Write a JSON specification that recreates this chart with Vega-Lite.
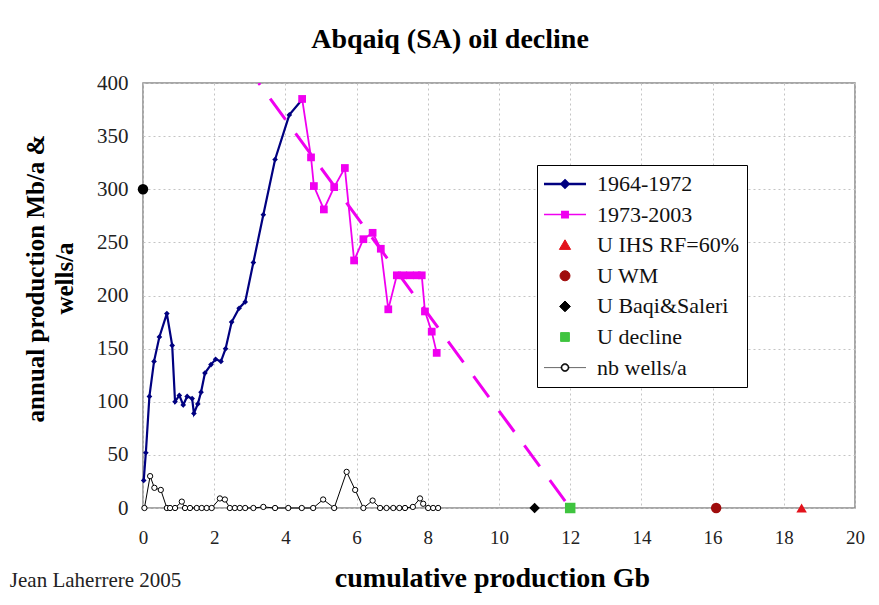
{
  "$schema": "https://vega.github.io/schema/vega-lite/v6.json",
  "width": 712,
  "height": 425,
  "autosize": {"type": "none"},
  "padding": {"left": 143, "top": 83, "right": 24, "bottom": 97},
  "background": "white",
  "title": {
    "text": "Abqaiq (SA) oil decline",
    "font": "Liberation Serif",
    "fontSize": 28,
    "fontWeight": "bold",
    "color": "#000000",
    "frame": "group",
    "anchor": "middle",
    "baseline": "alphabetic",
    "dx": -49,
    "dy": 41,
    "offset": 37
  },
  "datasets": {
    "series": [
      {"series": "1964-1972", "x": 0.02, "y": 26},
      {"series": "1964-1972", "x": 0.08, "y": 52},
      {"series": "1964-1972", "x": 0.18, "y": 105},
      {"series": "1964-1972", "x": 0.31, "y": 138},
      {"series": "1964-1972", "x": 0.46, "y": 161},
      {"series": "1964-1972", "x": 0.67, "y": 183},
      {"series": "1964-1972", "x": 0.82, "y": 153},
      {"series": "1964-1972", "x": 0.9, "y": 100},
      {"series": "1964-1972", "x": 1.02, "y": 106},
      {"series": "1964-1972", "x": 1.13, "y": 97},
      {"series": "1964-1972", "x": 1.24, "y": 105},
      {"series": "1964-1972", "x": 1.38, "y": 103},
      {"series": "1964-1972", "x": 1.43, "y": 89},
      {"series": "1964-1972", "x": 1.54, "y": 98},
      {"series": "1964-1972", "x": 1.63, "y": 109},
      {"series": "1964-1972", "x": 1.74, "y": 127},
      {"series": "1964-1972", "x": 1.91, "y": 135},
      {"series": "1964-1972", "x": 2.04, "y": 140},
      {"series": "1964-1972", "x": 2.19, "y": 138},
      {"series": "1964-1972", "x": 2.32, "y": 150},
      {"series": "1964-1972", "x": 2.49, "y": 175},
      {"series": "1964-1972", "x": 2.7, "y": 188},
      {"series": "1964-1972", "x": 2.87, "y": 194},
      {"series": "1964-1972", "x": 3.1, "y": 231},
      {"series": "1964-1972", "x": 3.38, "y": 276},
      {"series": "1964-1972", "x": 3.71, "y": 328},
      {"series": "1964-1972", "x": 4.11, "y": 370},
      {"series": "1964-1972", "x": 4.46, "y": 384},
      {"series": "1973-2003", "x": 4.47, "y": 385},
      {"series": "1973-2003", "x": 4.72, "y": 330},
      {"series": "1973-2003", "x": 4.8, "y": 303},
      {"series": "1973-2003", "x": 5.08, "y": 281},
      {"series": "1973-2003", "x": 5.37, "y": 302},
      {"series": "1973-2003", "x": 5.67, "y": 320},
      {"series": "1973-2003", "x": 5.93, "y": 233},
      {"series": "1973-2003", "x": 6.19, "y": 253},
      {"series": "1973-2003", "x": 6.45, "y": 259},
      {"series": "1973-2003", "x": 6.68, "y": 244},
      {"series": "1973-2003", "x": 6.89, "y": 187},
      {"series": "1973-2003", "x": 7.13, "y": 219},
      {"series": "1973-2003", "x": 7.31, "y": 219},
      {"series": "1973-2003", "x": 7.5, "y": 219},
      {"series": "1973-2003", "x": 7.69, "y": 219},
      {"series": "1973-2003", "x": 7.83, "y": 219},
      {"series": "1973-2003", "x": 7.92, "y": 185},
      {"series": "1973-2003", "x": 8.11, "y": 166},
      {"series": "1973-2003", "x": 8.25, "y": 146},
      {"series": "nb wells/a", "x": 0.04, "y": 0},
      {"series": "nb wells/a", "x": 0.2, "y": 30},
      {"series": "nb wells/a", "x": 0.32, "y": 19},
      {"series": "nb wells/a", "x": 0.5, "y": 17},
      {"series": "nb wells/a", "x": 0.67, "y": 0},
      {"series": "nb wells/a", "x": 0.76, "y": 0},
      {"series": "nb wells/a", "x": 0.9, "y": 0},
      {"series": "nb wells/a", "x": 1.09, "y": 6},
      {"series": "nb wells/a", "x": 1.18, "y": 0},
      {"series": "nb wells/a", "x": 1.32, "y": 0},
      {"series": "nb wells/a", "x": 1.51, "y": 0},
      {"series": "nb wells/a", "x": 1.65, "y": 0},
      {"series": "nb wells/a", "x": 1.79, "y": 0},
      {"series": "nb wells/a", "x": 1.93, "y": 0},
      {"series": "nb wells/a", "x": 2.16, "y": 9},
      {"series": "nb wells/a", "x": 2.3, "y": 8},
      {"series": "nb wells/a", "x": 2.44, "y": 0},
      {"series": "nb wells/a", "x": 2.58, "y": 0},
      {"series": "nb wells/a", "x": 2.72, "y": 0},
      {"series": "nb wells/a", "x": 2.87, "y": 0},
      {"series": "nb wells/a", "x": 3.1, "y": 0},
      {"series": "nb wells/a", "x": 3.38, "y": 1},
      {"series": "nb wells/a", "x": 3.71, "y": 0},
      {"series": "nb wells/a", "x": 4.08, "y": 0},
      {"series": "nb wells/a", "x": 4.46, "y": 0},
      {"series": "nb wells/a", "x": 4.78, "y": 0},
      {"series": "nb wells/a", "x": 5.06, "y": 8},
      {"series": "nb wells/a", "x": 5.37, "y": 0},
      {"series": "nb wells/a", "x": 5.72, "y": 34},
      {"series": "nb wells/a", "x": 5.96, "y": 17},
      {"series": "nb wells/a", "x": 6.19, "y": 0},
      {"series": "nb wells/a", "x": 6.45, "y": 7},
      {"series": "nb wells/a", "x": 6.66, "y": 0},
      {"series": "nb wells/a", "x": 6.84, "y": 0},
      {"series": "nb wells/a", "x": 7.03, "y": 0},
      {"series": "nb wells/a", "x": 7.2, "y": 0},
      {"series": "nb wells/a", "x": 7.36, "y": 0},
      {"series": "nb wells/a", "x": 7.58, "y": 1},
      {"series": "nb wells/a", "x": 7.78, "y": 9},
      {"series": "nb wells/a", "x": 7.87, "y": 4},
      {"series": "nb wells/a", "x": 8.01, "y": 0},
      {"series": "nb wells/a", "x": 8.15, "y": 0},
      {"series": "nb wells/a", "x": 8.29, "y": 0}
    ],
    "trend": [
      {"x": 3.25, "y": 400},
      {"x": 12.0, "y": 0}
    ],
    "upts": [
      {"series": "U IHS RF=60%", "x": 18.5, "y": 0},
      {"series": "U WM", "x": 16.1, "y": 0},
      {"series": "U Baqi&Saleri", "x": 11.0, "y": 0},
      {"series": "U decline", "x": 12.0, "y": 0}
    ],
    "dot": [
      {"x": 0, "y": 300}
    ],
    "note": [
      {"label": "Jean Laherrere 2005", "x": -3.74, "y": -74}
    ]
  },
  "encoding": {
    "x": {
      "field": "x",
      "type": "quantitative",
      "scale": {"domain": [0, 20], "nice": false, "zero": false},
      "axis": {
        "values": [0, 2, 4, 6, 8, 10, 12, 14, 16, 18, 20],
        "title": "cumulative production Gb",
        "titleFontSize": 28,
        "titleBaseline": "top",
        "titleAlign": "center",
        "titleAnchor": "middle",
        "titleX": 349,
        "titleY": 56,
        "labelFontSize": 19,
        "labelPadding": 20,
        "labelFlush": false,
        "labelOverlap": false
      }
    },
    "y": {
      "field": "y",
      "type": "quantitative",
      "scale": {"domain": [0, 400], "nice": false, "zero": false},
      "axis": {
        "values": [0, 50, 100, 150, 200, 250, 300, 350, 400],
        "title": ["annual production Mb/a &", "wells/a"],
        "titleFontSize": 25,
        "titleLineHeight": 29,
        "titleAngle": 270,
        "titleAlign": "center",
        "titleBaseline": "bottom",
        "titleX": -95,
        "titleY": 195,
        "labelFontSize": 21,
        "labelPadding": 15,
        "labelFlush": false,
        "labelOverlap": false
      }
    }
  },
  "layer": [
    {
      "data": {"name": "trend"},
      "mark": {"type": "line", "color": "#F000F0", "strokeWidth": 3, "strokeDash": [26, 17], "strokeDashOffset": 23.6, "clip": true},
      "encoding": {}
    },
    {
      "data": {"name": "series"},
      "transform": [{"filter": {"field": "series", "equal": "1964-1972"}}],
      "mark": {"type": "line", "strokeWidth": 2.2},
      "encoding": {
        "color": {
          "field": "series",
          "type": "nominal",
          "scale": {
            "domain": ["1964-1972", "1973-2003", "U IHS RF=60%", "U WM", "U Baqi&Saleri", "U decline", "nb wells/a"],
            "range": ["#000080", "#F000F0", "#E3121B", "#A00C0C", "#000000", "#3FC43F", "#000000"]
          },
          "legend": {
            "title": null,
            "orient": "none",
            "legendX": 394,
            "legendY": 82,
            "fillColor": "white",
            "strokeColor": "#000000",
            "padding": 8,
            "labelFont": "Liberation Serif",
            "labelFontSize": 22,
            "labelColor": "#111111",
            "labelLimit": 400,
            "rowPadding": 8.6,
            "symbolSize": 100,
            "symbolOffset": 9,
            "labelOffset": 21,
            "encode": {
              "labels": {
                "update": {
                  "font": {"value": "Liberation Serif"}
                }
              },
              "symbols": {
                "update": {
                  "shape": {"signal": "['M-1.05,0H1.05M0,-0.18L0.18,0L0,0.18L-0.18,0Z','M-1.05,0H1.05M-0.16,-0.16H0.16V0.16H-0.16Z','M0,-0.27L0.28,0.21L-0.28,0.21Z','M-0.25,0A0.25,0.25,0,1,1,0.25,0A0.25,0.25,0,1,1,-0.25,0Z','M0,-0.27L0.27,0L0,0.27L-0.27,0Z','M-0.22,-0.22H0.22V0.22H-0.22Z','M-1.05,0H-0.2M0.2,0H1.05M-0.2,0A0.2,0.2,0,1,1,0.2,0A0.2,0.2,0,1,1,-0.2,0ZM-0.15,0A0.15,0.15,0,1,0,0.15,0A0.15,0.15,0,1,0,-0.15,0Z'][indexof(['1964-1972','1973-2003','U IHS RF=60%','U WM','U Baqi&Saleri','U decline','nb wells/a'], datum.value)]"},
                  "size": {"value": 1600},
                  "fill": {"signal": "scale('color', datum.value)"},
                  "stroke": {"signal": "scale('color', datum.value)"},
                  "strokeWidth": {"signal": "datum.value === '1964-1972' ? 2.5 : (datum.value === '1973-2003' ? 1.5 : (datum.value === 'nb wells/a' ? 0.6 : 1))"},
                  "opacity": {"value": 1}
                }
              }
            }
          }
        }
      }
    },
    {
      "data": {"name": "series"},
      "transform": [{"filter": {"field": "series", "equal": "1973-2003"}}],
      "mark": {"type": "line", "strokeWidth": 1.8},
      "encoding": {
        "color": {"field": "series", "type": "nominal"}
      }
    },
    {
      "data": {"name": "series"},
      "transform": [{"filter": {"field": "series", "equal": "nb wells/a"}}],
      "mark": {"type": "line", "strokeWidth": 1},
      "encoding": {
        "color": {"field": "series", "type": "nominal"}
      }
    },
    {
      "data": {"name": "series"},
      "transform": [{"filter": {"field": "series", "equal": "1964-1972"}}],
      "mark": {"type": "point", "shape": "diamond", "filled": true, "size": 32, "color": "#000080", "opacity": 1}
    },
    {
      "data": {"name": "series"},
      "transform": [{"filter": {"field": "series", "equal": "1973-2003"}}],
      "mark": {"type": "point", "shape": "square", "filled": true, "size": 60, "color": "#F000F0", "opacity": 1}
    },
    {
      "data": {"name": "series"},
      "transform": [{"filter": {"field": "series", "equal": "nb wells/a"}}],
      "mark": {"type": "point", "shape": "circle", "filled": false, "fill": "white", "stroke": "#000000", "strokeWidth": 1, "size": 28, "opacity": 1}
    },
    {
      "data": {"name": "upts"},
      "mark": {"type": "point", "filled": true, "opacity": 1, "size": 110},
      "encoding": {
        "color": {"field": "series", "type": "nominal"},
        "shape": {
          "field": "series",
          "type": "nominal",
          "scale": {"domain": ["U IHS RF=60%", "U WM", "U Baqi&Saleri", "U decline"], "range": ["triangle-up", "circle", "diamond", "square"]},
          "legend": null
        }
      }
    },
    {
      "data": {"name": "dot"},
      "mark": {"type": "point", "shape": "circle", "filled": true, "size": 110, "color": "#000000", "opacity": 1, "clip": false}
    },
    {
      "data": {"name": "note"},
      "mark": {"type": "text", "align": "left", "baseline": "alphabetic", "font": "Liberation Serif", "fontSize": 21, "color": "#222222", "clip": false},
      "encoding": {"text": {"field": "label"}}
    }
  ],
  "config": {
    "font": "Liberation Serif",
    "style": {"guide-label": {"font": "Liberation Serif"}},
    "view": {"stroke": "#8a8a8a", "strokeWidth": 1.5},
    "legend": {"labelFont": "Liberation Serif"},
    "axis": {
      "labelFont": "Liberation Serif",
      "labelFontSize": 20,
      "labelColor": "#222222",
      "titleFont": "Liberation Serif",
      "titleFontWeight": "bold",
      "titleColor": "#000000",
      "domain": false,
      "ticks": false,
      "tickSize": 0,
      "grid": true,
      "gridColor": "#c4c4c4",
      "gridDash": [2, 3],
      "gridWidth": 1
    }
  }
}
